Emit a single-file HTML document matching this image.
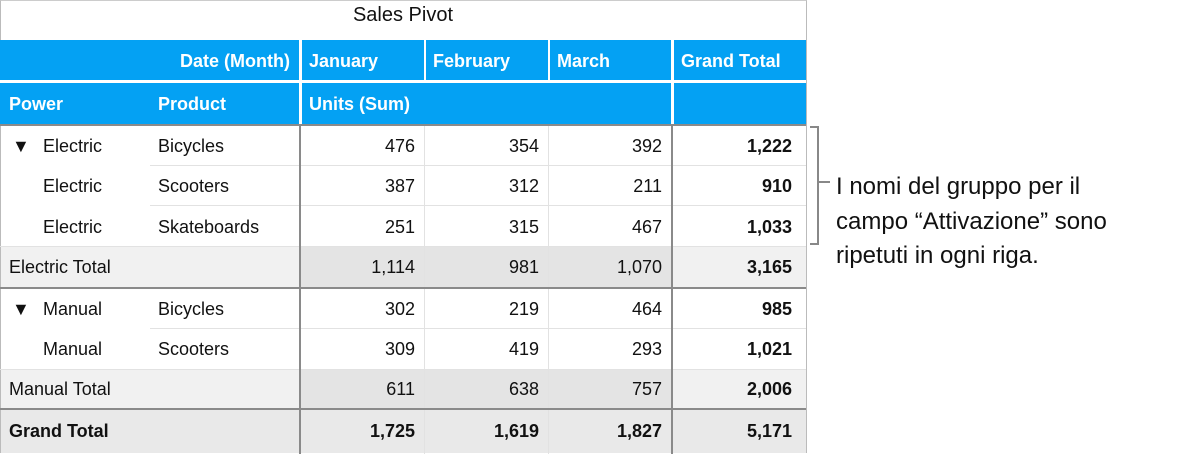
<!DOCTYPE html>
<html><head><meta charset="utf-8"><style>
body{margin:0;width:1180px;height:454px;background:#fff;position:relative;overflow:hidden;font-family:"Liberation Sans",Arial,sans-serif;}
div{position:absolute;box-sizing:border-box;}
.t{font-size:18px;color:#111;line-height:20px;white-space:nowrap;}
.b{font-weight:bold;}
.w{color:#fff;font-weight:bold;}
.r{text-align:right;}
.tri{font-size:18px;left:12px;}
</style></head><body>
<div style="left:0;top:0;width:807px;height:453px;border:1px solid #bbb;border-top:1px solid #ccc;"></div>
<div class="t" style="left:0;top:5px;width:806px;text-align:center;font-size:20px;color:#111;">Sales Pivot</div>
<div style="left:0;top:40px;width:806px;height:84px;background:#04a1f3;"></div>
<div style="left:0;top:80px;width:806px;height:3px;background:#fff;"></div>
<div style="left:299px;top:40px;width:3px;height:84px;background:#fff;"></div>
<div style="left:424px;top:40px;width:2px;height:41px;background:#fff;"></div>
<div style="left:548px;top:40px;width:2px;height:41px;background:#fff;"></div>
<div style="left:671px;top:40px;width:3px;height:84px;background:#fff;"></div>
<div class="t w r" style="left:150px;top:51px;width:140px;">Date (Month)</div>
<div class="t w" style="left:309px;top:51px;">January</div>
<div class="t w" style="left:433px;top:51px;">February</div>
<div class="t w" style="left:557px;top:51px;">March</div>
<div class="t w" style="left:681px;top:51px;">Grand Total</div>
<div class="t w" style="left:9px;top:94px;">Power</div>
<div class="t w" style="left:158px;top:94px;">Product</div>
<div class="t w" style="left:309px;top:94px;">Units (Sum)</div>
<div style="left:1px;top:246px;width:805px;height:41px;background:#f1f1f1;"></div>
<div style="left:301px;top:246px;width:371px;height:41px;background:#e4e4e4;"></div>
<div style="left:1px;top:369px;width:805px;height:40px;background:#f1f1f1;"></div>
<div style="left:301px;top:369px;width:371px;height:40px;background:#e4e4e4;"></div>
<div style="left:1px;top:409px;width:805px;height:44px;background:#e9e9e9;"></div>
<div style="left:150px;top:165px;width:656px;height:1px;background:#e2e2e2;"></div>
<div style="left:150px;top:205px;width:656px;height:1px;background:#e2e2e2;"></div>
<div style="left:0;top:246px;width:806px;height:1px;background:#e2e2e2;"></div>
<div style="left:150px;top:328px;width:656px;height:1px;background:#e2e2e2;"></div>
<div style="left:0;top:369px;width:806px;height:1px;background:#e2e2e2;"></div>
<div style="left:424px;top:124px;width:1px;height:330px;background:#e2e2e2;"></div>
<div style="left:548px;top:124px;width:1px;height:330px;background:#e2e2e2;"></div>
<div style="left:0;top:124px;width:806px;height:2px;background:#8a8a8a;"></div>
<div style="left:0;top:287px;width:806px;height:2px;background:#8a8a8a;"></div>
<div style="left:0;top:408px;width:806px;height:2px;background:#8a8a8a;"></div>
<div style="left:299px;top:124px;width:2px;height:330px;background:#8a8a8a;"></div>
<div style="left:671px;top:124px;width:2px;height:330px;background:#8a8a8a;"></div>
<div class="t tri" style="top:136px;">▼</div>
<div class="t" style="left:43px;top:136px;">Electric</div><div class="t" style="left:158px;top:136px;">Bicycles</div>
<div class="t r" style="left:300px;top:136px;width:115px;">476</div><div class="t r" style="left:425px;top:136px;width:114px;">354</div><div class="t r" style="left:549px;top:136px;width:113px;">392</div><div class="t b r" style="left:673px;top:136px;width:119px;">1,222</div>
<div class="t" style="left:43px;top:176px;">Electric</div><div class="t" style="left:158px;top:176px;">Scooters</div>
<div class="t r" style="left:300px;top:176px;width:115px;">387</div><div class="t r" style="left:425px;top:176px;width:114px;">312</div><div class="t r" style="left:549px;top:176px;width:113px;">211</div><div class="t b r" style="left:673px;top:176px;width:119px;">910</div>
<div class="t" style="left:43px;top:217px;">Electric</div><div class="t" style="left:158px;top:217px;">Skateboards</div>
<div class="t r" style="left:300px;top:217px;width:115px;">251</div><div class="t r" style="left:425px;top:217px;width:114px;">315</div><div class="t r" style="left:549px;top:217px;width:113px;">467</div><div class="t b r" style="left:673px;top:217px;width:119px;">1,033</div>
<div class="t" style="left:9px;top:257px;">Electric Total</div>
<div class="t r" style="left:300px;top:257px;width:115px;">1,114</div><div class="t r" style="left:425px;top:257px;width:114px;">981</div><div class="t r" style="left:549px;top:257px;width:113px;">1,070</div><div class="t b r" style="left:673px;top:257px;width:119px;">3,165</div>
<div class="t tri" style="top:299px;">▼</div>
<div class="t" style="left:43px;top:299px;">Manual</div><div class="t" style="left:158px;top:299px;">Bicycles</div>
<div class="t r" style="left:300px;top:299px;width:115px;">302</div><div class="t r" style="left:425px;top:299px;width:114px;">219</div><div class="t r" style="left:549px;top:299px;width:113px;">464</div><div class="t b r" style="left:673px;top:299px;width:119px;">985</div>
<div class="t" style="left:43px;top:339px;">Manual</div><div class="t" style="left:158px;top:339px;">Scooters</div>
<div class="t r" style="left:300px;top:339px;width:115px;">309</div><div class="t r" style="left:425px;top:339px;width:114px;">419</div><div class="t r" style="left:549px;top:339px;width:113px;">293</div><div class="t b r" style="left:673px;top:339px;width:119px;">1,021</div>
<div class="t" style="left:9px;top:379px;">Manual Total</div>
<div class="t r" style="left:300px;top:379px;width:115px;">611</div><div class="t r" style="left:425px;top:379px;width:114px;">638</div><div class="t r" style="left:549px;top:379px;width:113px;">757</div><div class="t b r" style="left:673px;top:379px;width:119px;">2,006</div>
<div class="t b" style="left:9px;top:421px;">Grand Total</div>
<div class="t b r" style="left:300px;top:421px;width:115px;">1,725</div><div class="t b r" style="left:425px;top:421px;width:114px;">1,619</div><div class="t b r" style="left:549px;top:421px;width:113px;">1,827</div><div class="t b r" style="left:673px;top:421px;width:119px;">5,171</div>
<div style="left:810px;top:126px;width:9px;height:119px;border:2px solid #888;border-left:none;"></div>
<div style="left:817px;top:181px;width:13px;height:2px;background:#888;"></div>
<div class="t" style="left:836px;top:170px;font-size:24px;line-height:34.5px;color:#111;">I nomi del gruppo per il<br>campo “Attivazione” sono<br>ripetuti in ogni riga.</div>
</body></html>
